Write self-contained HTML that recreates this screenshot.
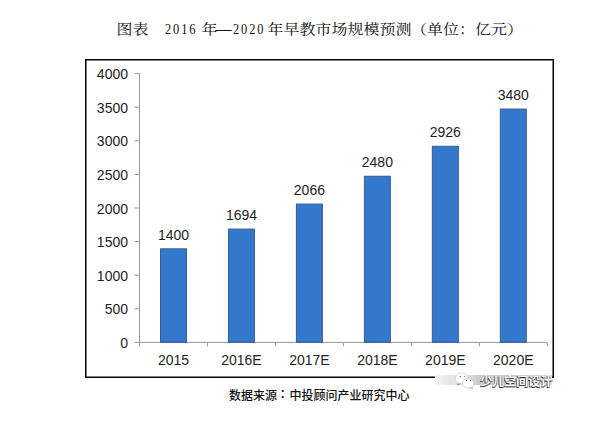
<!DOCTYPE html>
<html><head><meta charset="utf-8">
<style>
html,body{margin:0;padding:0;background:#fff;}
body{width:603px;height:427px;overflow:hidden;position:relative;}
svg{position:absolute;left:0;top:0;}
.n{font-family:"Liberation Sans",Arial,sans-serif;font-size:14px;fill:#1e1e1e;}
.title span{position:absolute;top:19px;white-space:nowrap;font-family:"Liberation Serif","Noto Serif CJK SC",serif;font-weight:400;font-size:15px;line-height:20px;color:#111;}
.title span.d{font-size:15.5px;letter-spacing:2.4px;transform:scaleX(0.8);transform-origin:0 0;}
.title span.c{top:19.6px;font-size:16px;letter-spacing:0;transform:scaleY(0.85);transform-origin:0 11px;}
.src{position:absolute;white-space:nowrap;font-family:"Liberation Sans","Noto Sans CJK SC",sans-serif;font-size:12px;font-weight:500;color:#111;}
.wm{position:absolute;white-space:nowrap;font-family:"Liberation Sans","Noto Sans CJK SC",sans-serif;font-weight:700;font-size:12px;line-height:16px;color:#fff;text-shadow:-0.7px 0.7px 0.4px #333,0.5px 0.5px 0.5px #666,0 0 1px #888;}
.band{position:absolute;left:435px;top:375px;width:117px;height:10px;background:linear-gradient(to right,#f8f8f8 0px,#ededed 8px,#e4e4e4 18px,#dcdcdc 34px,#cbcbcb 44px,#cfcfcf 80px,#dedede 117px);}
</style></head><body>
<svg width="603" height="427" viewBox="0 0 603 427">
<rect x="85.75" y="59.75" width="467.5" height="317.5" fill="none" stroke="#000" stroke-width="1.5"/>
<line x1="139.5" y1="73.60" x2="139.5" y2="346.40" stroke="#999999" stroke-width="1"/>
<line x1="134.5" y1="342.40" x2="139.5" y2="342.40" stroke="#999999" stroke-width="1"/>
<text x="128.0" y="347.90" text-anchor="end" class="n">0</text>
<line x1="134.5" y1="308.80" x2="139.5" y2="308.80" stroke="#999999" stroke-width="1"/>
<text x="128.0" y="314.30" text-anchor="end" class="n">500</text>
<line x1="134.5" y1="275.20" x2="139.5" y2="275.20" stroke="#999999" stroke-width="1"/>
<text x="128.0" y="280.70" text-anchor="end" class="n">1000</text>
<line x1="134.5" y1="241.60" x2="139.5" y2="241.60" stroke="#999999" stroke-width="1"/>
<text x="128.0" y="247.10" text-anchor="end" class="n">1500</text>
<line x1="134.5" y1="208.00" x2="139.5" y2="208.00" stroke="#999999" stroke-width="1"/>
<text x="128.0" y="213.50" text-anchor="end" class="n">2000</text>
<line x1="134.5" y1="174.40" x2="139.5" y2="174.40" stroke="#999999" stroke-width="1"/>
<text x="128.0" y="179.90" text-anchor="end" class="n">2500</text>
<line x1="134.5" y1="140.80" x2="139.5" y2="140.80" stroke="#999999" stroke-width="1"/>
<text x="128.0" y="146.30" text-anchor="end" class="n">3000</text>
<line x1="134.5" y1="107.20" x2="139.5" y2="107.20" stroke="#999999" stroke-width="1"/>
<text x="128.0" y="112.70" text-anchor="end" class="n">3500</text>
<line x1="134.5" y1="73.60" x2="139.5" y2="73.60" stroke="#999999" stroke-width="1"/>
<text x="128.0" y="79.10" text-anchor="end" class="n">4000</text>
<line x1="139.5" y1="342.4" x2="547.26" y2="342.4" stroke="#999999" stroke-width="1"/>
<line x1="139.50" y1="342.4" x2="139.50" y2="346.40" stroke="#999999" stroke-width="1"/>
<line x1="207.46" y1="342.4" x2="207.46" y2="346.40" stroke="#999999" stroke-width="1"/>
<line x1="275.42" y1="342.4" x2="275.42" y2="346.40" stroke="#999999" stroke-width="1"/>
<line x1="343.38" y1="342.4" x2="343.38" y2="346.40" stroke="#999999" stroke-width="1"/>
<line x1="411.34" y1="342.4" x2="411.34" y2="346.40" stroke="#999999" stroke-width="1"/>
<line x1="479.30" y1="342.4" x2="479.30" y2="346.40" stroke="#999999" stroke-width="1"/>
<line x1="547.26" y1="342.4" x2="547.26" y2="346.40" stroke="#999999" stroke-width="1"/>
<rect x="160.50" y="248.82" width="26.0" height="93.58" fill="#3478cd" stroke="#395f8e" stroke-width="1"/>
<text x="173.50" y="239.62" text-anchor="middle" class="n">1400</text>
<text x="173.50" y="364.8" text-anchor="middle" class="n">2015</text>
<rect x="228.46" y="229.06" width="26.0" height="113.34" fill="#3478cd" stroke="#395f8e" stroke-width="1"/>
<text x="241.46" y="219.86" text-anchor="middle" class="n">1694</text>
<text x="241.46" y="364.8" text-anchor="middle" class="n">2016E</text>
<rect x="296.42" y="204.06" width="26.0" height="138.34" fill="#3478cd" stroke="#395f8e" stroke-width="1"/>
<text x="309.42" y="194.86" text-anchor="middle" class="n">2066</text>
<text x="309.42" y="364.8" text-anchor="middle" class="n">2017E</text>
<rect x="364.38" y="176.24" width="26.0" height="166.16" fill="#3478cd" stroke="#395f8e" stroke-width="1"/>
<text x="377.38" y="167.04" text-anchor="middle" class="n">2480</text>
<text x="377.38" y="364.8" text-anchor="middle" class="n">2018E</text>
<rect x="432.34" y="146.27" width="26.0" height="196.13" fill="#3478cd" stroke="#395f8e" stroke-width="1"/>
<text x="445.34" y="137.07" text-anchor="middle" class="n">2926</text>
<text x="445.34" y="364.8" text-anchor="middle" class="n">2019E</text>
<rect x="500.30" y="109.04" width="26.0" height="233.36" fill="#3478cd" stroke="#395f8e" stroke-width="1"/>
<text x="513.30" y="99.84" text-anchor="middle" class="n">3480</text>
<text x="513.30" y="364.8" text-anchor="middle" class="n">2020E</text>
</svg>
<div class="title">
<span class="c" style="left:116.5px">图表</span>
<span class="d" style="left:165px">2016</span>
<span class="c" style="left:201.5px">年</span>
<span style="left:215.5px;font-size:16px">—</span>
<span class="d" style="left:232.6px">2020</span>
<span class="c" style="left:267.5px">年早教市场规模预测</span>
<span class="c" style="left:411px">（单位：亿元）</span>
</div>
<div class="src" style="left:229px;top:385.6px">数据来源</div>
<div class="src" style="left:279.8px;top:384.2px">：</div>
<div class="src" style="left:289.6px;top:385.6px">中投顾问产业研究中心</div>
<div class="band"></div>
<svg class="wx" width="24" height="20" viewBox="0 0 24 20" style="position:absolute;left:452px;top:371px">
<ellipse cx="9.6" cy="7.4" rx="6.4" ry="5.4" fill="#fff" stroke="#c4c4c4" stroke-width="0.6"/>
<path d="M6.2 11.9 L5.6 14 L8.4 12.7" fill="#fff" stroke="#777" stroke-width="0.8"/>
<ellipse cx="16.2" cy="12.2" rx="5.6" ry="4.8" fill="#fff" stroke="#bdbdbd" stroke-width="0.6"/>
<path d="M19.6 15.8 L20.8 17.8 L17.6 16.8" fill="#fff" stroke="#999" stroke-width="0.7"/>
<circle cx="8.2" cy="5.4" r="0.75" fill="#777"/><circle cx="12.6" cy="5.4" r="0.75" fill="#888"/>
<circle cx="14.4" cy="9.6" r="0.75" fill="#555"/><circle cx="18.6" cy="9.6" r="0.75" fill="#666"/>
</svg>
<div class="wm" style="left:480.3px;top:373.8px">少儿空间设计</div>
</body></html>
